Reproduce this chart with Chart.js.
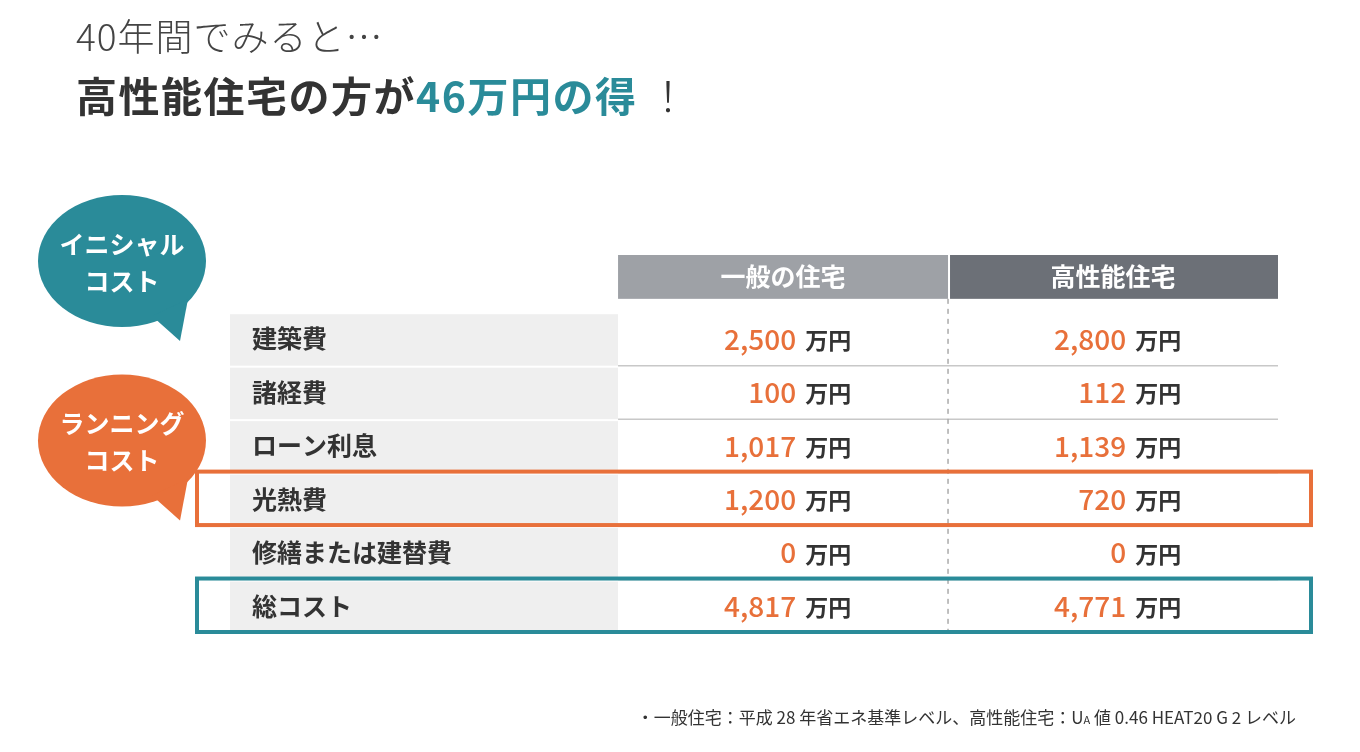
<!DOCTYPE html>
<html><head><meta charset="utf-8">
<script src="https://cdn.jsdelivr.net/npm/chart.js@4"></script>
<style>
body{margin:0;background:#fff;font-family:"Noto Sans CJK JP",sans-serif;}
#wrap{position:absolute;left:0;top:0;width:1360px;height:752px;}
.t1{position:absolute;left:76px;top:8px;font-size:37px;color:#444;font-weight:300;letter-spacing:1px}
.t2{position:absolute;left:76px;top:64px;font-size:41px;color:#333;font-weight:700;letter-spacing:1.5px}
.t2 span{color:#2a8b99}
.t2 i{font-style:normal;font-weight:300;margin-left:10px}
.note{position:absolute;right:64px;top:704px;font-size:17px;color:#333}
</style></head><body>
<div id="wrap"><canvas id="c" width="1360" height="752"></canvas></div>
<div class="t1">40年間でみると…</div>
<div class="t2">高性能住宅の方が<span>46万円の得</span><i>！</i></div>
<div class="note">・一般住宅：平成 28 年省エネ基準レベル、高性能住宅：U<span style="font-size:11px">A</span> 値 0.46 HEAT20 G 2 レベル</div>
<script>
const columns = ['一般の住宅', '高性能住宅'];
const rows = ['建築費', '諸経費', 'ローン利息', '光熱費', '修繕または建替費', '総コスト'];
const general = [2500, 100, 1017, 1200, 0, 4817];
const highPerf = [2800, 112, 1139, 720, 0, 4771];
const unit = '万円';
const bubbles = [['イニシャル','コスト'], ['ランニング','コスト']];

const LABELW = 1.176, HDR = 0.82, GAP = 0.25, R0 = HDR + GAP;
const ORANGE = '#e8703a', TEAL = '#2a8b99';
const fmt = v => v.toLocaleString('en-US');

const tablePlugin = {
  id: 'table',
  afterDraw(chart) {
    const ctx = chart.ctx, x = chart.scales.x, y = chart.scales.y;
    const X = v => x.getPixelForValue(v), Y = v => y.getPixelForValue(v);
    ctx.save();
    const hdrCol = ['#9ea1a6', '#6c7077'];
    columns.forEach((c, i) => {
      ctx.fillStyle = hdrCol[i];
      ctx.fillRect(X(LABELW + i) + (i ? 2 : 0), Y(0), X(LABELW + i + 1) - X(LABELW + i) - (i ? 2 : 0), Y(HDR) - Y(0));
      ctx.fillStyle = '#fff'; ctx.font = 'bold 25px "Noto Sans CJK JP"';
      ctx.textAlign = 'center'; ctx.textBaseline = 'middle';
      ctx.fillText(c, (X(LABELW + i) + X(LABELW + i + 1)) / 2, Y(HDR / 2));
    });
    rows.forEach((r, i) => {
      const top = Y(R0 + i), bot = Y(R0 + i + 1), mid = (top + bot) / 2;
      ctx.fillStyle = '#efefef';
      ctx.fillRect(X(0), top + 2, X(LABELW) - X(0), bot - top - 2);
      ctx.fillStyle = '#333'; ctx.font = 'bold 25px "Noto Sans CJK JP"';
      ctx.textAlign = 'left'; ctx.textBaseline = 'middle';
      ctx.fillText(r, X(0) + 22, mid);
      if (i < rows.length - 1) {
        ctx.strokeStyle = '#c8c8c8'; ctx.lineWidth = 1.5;
        ctx.beginPath(); ctx.moveTo(X(LABELW), bot); ctx.lineTo(X(LABELW + 2), bot); ctx.stroke();
      }
      [general[i], highPerf[i]].forEach((v, j) => {
        const right = X(LABELW + j + 0.54);
        ctx.fillStyle = ORANGE; ctx.font = '500 28px "Noto Sans CJK JP"'; ctx.textAlign = 'right';
        ctx.fillText(fmt(v), right, mid);
        ctx.fillStyle = '#333'; ctx.font = 'bold 23px "Noto Sans CJK JP"'; ctx.textAlign = 'left';
        ctx.fillText(unit, right + 9, mid + 1);
      });
    });
    ctx.strokeStyle = '#aaa'; ctx.lineWidth = 1.5; ctx.setLineDash([5, 5]);
    ctx.beginPath(); ctx.moveTo(X(LABELW + 1), Y(HDR)); ctx.lineTo(X(LABELW + 1), Y(R0 + rows.length)); ctx.stroke();
    ctx.setLineDash([]);
    const box = (i, col) => {
      ctx.strokeStyle = col; ctx.lineWidth = 4;
      ctx.strokeRect(X(-0.1), Y(R0 + i) - 1, X(LABELW + 2.1) - X(-0.1), Y(R0 + i + 1) - Y(R0 + i));
    };
    box(3, ORANGE); box(5, TEAL);
    const bub = (cy, col, lines) => {
      const cx = 122;
      ctx.fillStyle = col;
      ctx.beginPath(); ctx.ellipse(cx, cy, 84, 66, 0, 0, Math.PI * 2); ctx.fill();
      ctx.beginPath(); ctx.moveTo(cx + 30, cy + 55); ctx.lineTo(cx + 58, cy + 80); ctx.lineTo(cx + 66, cy + 38); ctx.fill();
      ctx.fillStyle = '#fff'; ctx.font = 'bold 25px "Noto Sans CJK JP"'; ctx.textAlign = 'center';
      ctx.fillText(lines[0], cx, cy - 17); ctx.fillText(lines[1], cx, cy + 20);
    };
    bub(Y(0) + 6, TEAL, bubbles[0]);
    bub(Y(R0 + 2.4), ORANGE, bubbles[1]);
    ctx.restore();
  }
};

new Chart(document.getElementById('c'), {
  type: 'scatter',
  data: { datasets: [{ data: [], pointRadius: 0 }] },
  options: {
    responsive: false, animation: false,
    layout: { padding: { left: 230, right: 82, top: 255, bottom: 119 } },
    plugins: { legend: { display: false }, tooltip: { enabled: false } },
    scales: {
      x: { type: 'linear', min: 0, max: LABELW + 2, display: false },
      y: { type: 'linear', min: 0, max: R0 + rows.length, reverse: true, display: false }
    }
  },
  plugins: [tablePlugin]
});
</script>
</body></html>
